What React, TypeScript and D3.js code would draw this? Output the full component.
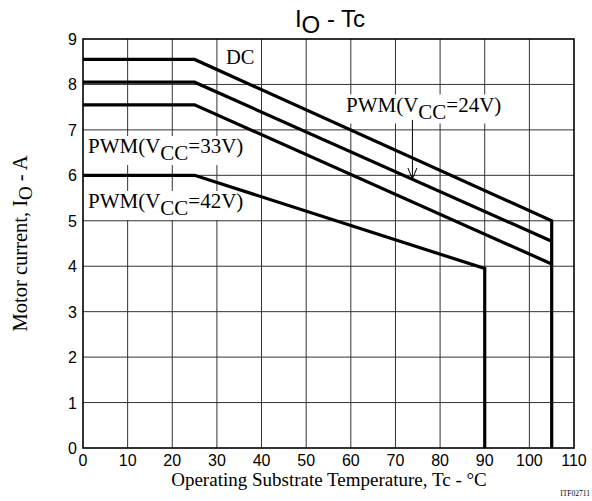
import React, { useEffect, useRef } from 'react';
import * as d3 from 'd3';

const W = 592;
const H = 501;

const xTicks = [0, 10, 20, 30, 40, 50, 60, 70, 80, 90, 100, 110];
const yTicks = [0, 1, 2, 3, 4, 5, 6, 7, 8, 9];

// Derating curves (Tc in °C, Io in A)
const dcTc = [0, 25, 105, 105];
const dcIo = [8.55, 8.55, 5.0, 0];
const pwm24Tc = [0, 25, 105];
const pwm24Io = [8.05, 8.05, 4.55];
const pwm33Tc = [0, 25, 105];
const pwm33Io = [7.55, 7.55, 4.05];
const pwm42Tc = [0, 25, 90, 90];
const pwm42Io = [6.0, 6.0, 3.95, 0];

const seriesTc = [dcTc, pwm24Tc, pwm33Tc, pwm42Tc];
const seriesIo = [dcIo, pwm24Io, pwm33Io, pwm42Io];

// Arrow pointing to the PWM(Vcc=24V) curve
const arrowTc = [73.8, 73.8];
const arrowIo = [7.22, 5.92];

type Part = [string, boolean];

export default function App() {
  const ref = useRef<SVGSVGElement>(null);

  useEffect(() => {
    const svg = d3.select(ref.current as SVGSVGElement);
    svg.selectAll('*').remove();

    const x = d3.scaleLinear().domain([0, 110]).range([83, 574]);
    const y = d3.scaleLinear().domain([0, 9]).range([448, 39]);

    const sans = "'Liberation Sans', Arial, sans-serif";
    const serif = "'Liberation Serif', 'Times New Roman', serif";

    svg.append('rect').attr('width', W).attr('height', H).attr('fill', '#fff');

    // grid
    const grid = svg.append('g').attr('stroke', '#333').attr('stroke-width', 1);
    grid.selectAll('line.gx')
      .data(xTicks.slice(1, -1))
      .join('line')
      .attr('x1', (d) => x(d)).attr('x2', (d) => x(d))
      .attr('y1', y(0)).attr('y2', y(9));
    grid.selectAll('line.gy')
      .data(yTicks.slice(1, -1))
      .join('line')
      .attr('y1', (d) => y(d)).attr('y2', (d) => y(d))
      .attr('x1', x(0)).attr('x2', x(110));

    // labels with white backgrounds
    const addLabel = (lx: number, ly: number, parts: Part[], size: number) => {
      const g = svg.append('g');
      const t = g.append('text')
        .attr('x', lx).attr('y', ly)
        .attr('font-family', serif)
        .attr('font-size', size)
        .attr('fill', '#000');
      let sub = false;
      parts.forEach(([s, isSub]) => {
        const ts = t.append('tspan').text(s);
        if (isSub && !sub) { ts.attr('dy', 7); sub = true; }
        else if (!isSub && sub) { ts.attr('dy', -7); sub = false; }
      });
      const bb = (t.node() as SVGTextElement).getBBox();
      g.insert('rect', 'text')
        .attr('x', bb.x - 2).attr('y', bb.y + 2)
        .attr('width', bb.width + 4).attr('height', bb.height - 2)
        .attr('fill', '#fff');
    };

    addLabel(226, 64, [['DC', false]], 20.5);
    addLabel(346, 111.5, [['PWM(V', false], ['CC', true], ['=24V)', false]], 21);
    addLabel(88, 153, [['PWM(V', false], ['CC', true], ['=33V)', false]], 21);
    addLabel(88, 208, [['PWM(V', false], ['CC', true], ['=42V)', false]], 21);

    // curves
    const line = d3.line<[number, number]>()
      .x((d) => x(d[0]))
      .y((d) => y(d[1]));
    seriesTc.forEach((tc, i) => {
      const pts = tc.map((t, j) => [t, seriesIo[i][j]] as [number, number]);
      svg.append('path')
        .attr('d', line(pts) as string)
        .attr('fill', 'none')
        .attr('stroke', '#000')
        .attr('stroke-width', 3.2)
        .attr('stroke-linejoin', 'miter');
    });

    // arrow
    const ax = x(arrowTc[1]);
    const ay = y(arrowIo[1]);
    svg.append('line')
      .attr('x1', x(arrowTc[0])).attr('x2', ax)
      .attr('y1', y(arrowIo[0])).attr('y2', ay)
      .attr('stroke', '#000').attr('stroke-width', 1);
    svg.append('polyline')
      .attr('points', `${ax - 4.5},${ay - 11} ${ax},${ay} ${ax + 4.5},${ay - 11}`)
      .attr('fill', 'none').attr('stroke', '#000').attr('stroke-width', 1);

    // frame
    svg.append('rect')
      .attr('x', x(0)).attr('y', y(9))
      .attr('width', x(110) - x(0)).attr('height', y(0) - y(9))
      .attr('fill', 'none').attr('stroke', '#000').attr('stroke-width', 1.6);

    // tick labels
    svg.append('g').selectAll('text')
      .data(xTicks)
      .join('text')
      .attr('x', (d) => x(d)).attr('y', 466)
      .attr('text-anchor', 'middle')
      .attr('font-family', sans).attr('font-size', 16)
      .text((d) => String(d));
    svg.append('g').selectAll('text')
      .data(yTicks)
      .join('text')
      .attr('x', 77).attr('y', (d) => y(d) + 6)
      .attr('text-anchor', 'end')
      .attr('font-family', sans).attr('font-size', 16)
      .text((d) => String(d));

    // title
    const title = svg.append('text')
      .attr('x', 330).attr('y', 27)
      .attr('text-anchor', 'middle')
      .attr('font-family', sans).attr('font-size', 24);
    title.append('tspan').text('I');
    title.append('tspan').attr('dy', 6).text('O');
    title.append('tspan').attr('dy', -6).text(' - Tc');

    // x axis title
    svg.append('text')
      .attr('x', 329).attr('y', 486)
      .attr('text-anchor', 'middle')
      .attr('font-family', serif).attr('font-size', 19)
      .text('Operating Substrate Temperature, Tc - °C');

    // y axis title
    const yt = svg.append('text')
      .attr('transform', `translate(27,${(y(0) + y(9)) / 2}) rotate(-90)`)
      .attr('text-anchor', 'middle')
      .attr('font-family', serif).attr('font-size', 20.5);
    yt.append('tspan').text('Motor current, I');
    yt.append('tspan').attr('dy', 5).attr('font-size', 19).text('O');
    yt.append('tspan').attr('dy', -5).text(' - A');

    // figure code
    svg.append('text')
      .attr('x', 590).attr('y', 496)
      .attr('text-anchor', 'end')
      .attr('font-family', serif).attr('font-size', 7.5)
      .text('ITF02711');
  }, []);

  return (
    <svg
      ref={ref}
      width={W}
      height={H}
      style={{ position: 'absolute', left: 0, top: 0, display: 'block' }}
    />
  );
}
